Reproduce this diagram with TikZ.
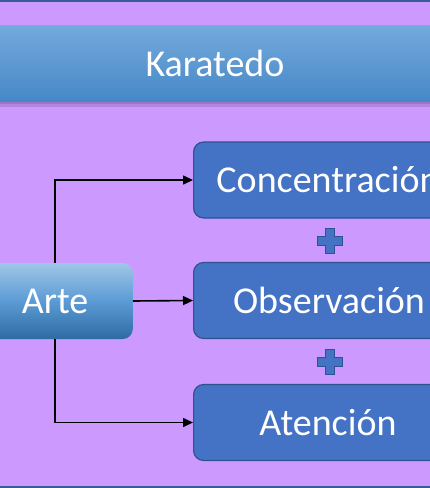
\documentclass[tikz,border=0pt]{standalone}
\usepackage{fontspec}
\setmainfont{Carlito}
\usetikzlibrary{arrows.meta,shadows}
\definecolor{bgpurple}{HTML}{CC99FF}
\definecolor{frameblue}{HTML}{3B5A9A}
\definecolor{boxfill}{HTML}{4472C4}
\definecolor{boxline}{HTML}{2F528F}
\definecolor{bannertop}{HTML}{74AADC}
\definecolor{bannerbot}{HTML}{4688C8}
\definecolor{artetop}{HTML}{A0C6E8}
\definecolor{artemid}{HTML}{5B9BD5}
\definecolor{artebot}{HTML}{2F6AA2}
\tikzset{
  lbl/.style={font=\fontsize{38}{40}\selectfont, text=white},
  itembox/.style={lbl, rectangle, rounded corners=10pt, fill=boxfill, draw=boxline, line width=1.2pt,
    minimum width=270pt, minimum height=76pt, inner sep=0pt},
  artebox/.style={lbl, rectangle, rounded corners=10pt, top color=artetop, bottom color=artebot,
    middle color=artemid, minimum width=156pt, minimum height=76pt, inner sep=0pt},
  banner/.style={lbl, rectangle, top color=bannertop, bottom color=bannerbot,
    minimum width=460pt, minimum height=76pt, inner sep=0pt},
  conn/.style={line width=1.6pt, -{Triangle[length=10pt,width=9pt]}},
  plussign/.style={fill=boxfill, draw=boxline, line width=1pt}
}
\begin{document}
\begin{tikzpicture}[x=1pt,y=-1pt]
\useasboundingbox (0,0) rectangle (430,488);
\fill[bgpurple] (0,0) rectangle (430,488);
\fill[frameblue] (-2,0) rectangle (432,2);
\fill[frameblue] (-2,486) rectangle (432,490);
% banner shadow
\fill[black, opacity=0.12] (-10,101) rectangle (440,107);
\fill[black, opacity=0.12] (-10,101) rectangle (440,104);
\node[banner] (kar) at (215,63) {Karatedo};
% boxes
\node[itembox, anchor=west] (c1) at (193,180) {};
\node[lbl] at (328,180) {Concentración};
\node[itembox, anchor=west] (c2) at (193,300.5) {};
\node[lbl] at (329,300.5) {Observación};
\node[itembox, anchor=west] (c3) at (193,422.5) {};
\node[lbl] at (328,422.5) {Atención};
\node[artebox, anchor=east] (arte) at (133,301) {};
\node[lbl] at (55,301) {Arte};
% plus signs
\foreach \cy/\nm in {240.5/p1, 362/p2} {
  \coordinate (\nm) at (329.5,\cy);
  \draw[plussign] ([shift={(-4.5,-12.5)}]\nm) -- ++(9,0) -- ++(0,8) -- ++(8,0) -- ++(0,9) -- ++(-8,0)
     -- ++(0,8) -- ++(-9,0) -- ++(0,-8) -- ++(-8,0) -- ++(0,-9) -- ++(8,0) -- cycle;
}
% connectors
\coordinate (topturn) at (55,180);
\coordinate (botturn) at (55,422.5);
\draw[conn] (arte.north -| topturn) -- (topturn) -- (c1.west);
\draw[conn] (arte.east) -- (c2.west);
\draw[conn] (arte.south -| botturn) -- (botturn) -- (c3.west);
\end{tikzpicture}
\end{document}
